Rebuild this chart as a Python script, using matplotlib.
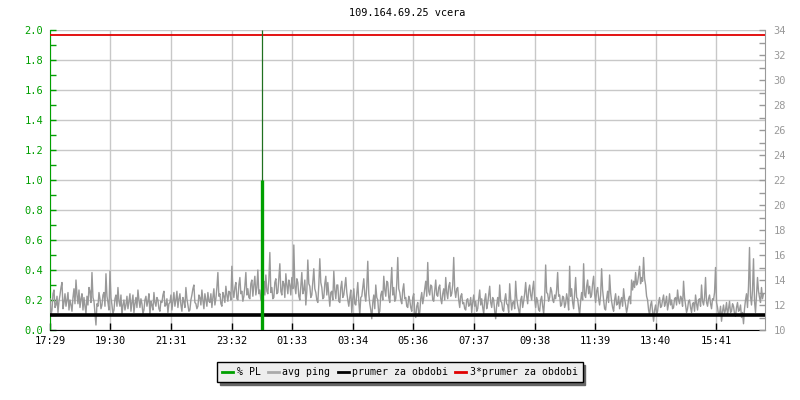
import matplotlib
matplotlib.use("Agg")
import matplotlib.pyplot as plt
from matplotlib.lines import Line2D
import numpy as np

# ---------------- data ----------------
title = "109.164.69.25 vcera"

# avg ping [ms], one sample every 2 minutes starting 17:29
ping_step_min = 2
avg_ping = [
    12.5, 11.2, 11.6, 12.9, 13.2, 11.8, 12.0, 12.7, 11.4, 12.3, 12.8, 13.4, 13.8, 11.7, 12.2, 12.9, 11.9, 12.4, 13.0, 11.6, 12.4, 12.0, 11.5, 12.6, 13.3, 12.1, 14.0, 12.8, 12.1, 13.2,
    11.8, 12.5, 12.9, 11.6, 12.6, 11.9, 11.3, 12.7, 12.0, 13.4, 13.1, 12.2, 14.6, 12.6, 12.3, 11.4, 10.4, 12.1, 11.9, 13.0, 12.5, 11.7, 12.0, 12.8, 13.0, 11.9, 14.5, 12.7, 12.2, 11.6,
    14.7, 12.6, 12.0, 11.3, 11.6, 12.5, 12.8, 11.9, 13.4, 12.3, 11.9, 12.8, 11.2, 12.0, 12.4, 11.6, 12.0, 12.7, 11.7, 12.3, 12.9, 11.5, 12.2, 12.8, 11.4, 12.1, 12.6, 11.8, 13.2, 12.4,
    11.8, 12.5, 12.1, 11.3, 11.6, 12.4, 12.7, 11.9, 12.3, 12.9, 11.2, 12.3, 12.0, 11.6, 13.0, 12.2, 11.9, 12.6, 12.4, 11.7, 11.5, 12.3, 12.2, 12.8, 13.1, 11.9, 12.0, 12.5, 11.4, 12.1,
    12.2, 12.8, 11.6, 12.3, 13.0, 11.9, 12.4, 13.1, 11.8, 12.5, 12.9, 12.0, 11.5, 12.6, 12.3, 11.8, 13.4, 12.5, 12.0, 11.5, 11.6, 12.4, 12.8, 13.3, 13.6, 12.2, 12.1, 11.7, 11.9, 12.8,
    12.6, 12.0, 13.2, 12.4, 11.7, 12.9, 12.4, 11.9, 13.0, 12.3, 12.2, 12.9, 11.8, 12.6, 13.3, 12.0, 12.5, 13.4, 14.6, 12.7, 12.9, 12.1, 11.9, 13.0, 12.7, 12.2, 13.5, 12.8, 12.3, 13.1,
    13.0, 12.4, 15.1, 13.2, 12.6, 13.4, 13.8, 12.5, 12.4, 13.6, 14.2, 12.9, 13.1, 12.3, 12.7, 13.5, 14.6, 12.8, 13.3, 12.6, 12.5, 13.7, 14.0, 12.7, 13.6, 14.3, 12.8, 13.4, 14.8, 12.9,
    13.2, 12.4, 12.3, 13.5, 13.9, 12.8, 14.4, 13.1, 12.9, 14.0, 16.2, 13.0, 13.4, 12.5, 12.6, 13.8, 14.1, 12.9, 13.0, 14.2, 15.3, 13.1, 12.8, 13.9, 13.7, 12.6, 14.5, 13.6, 12.9, 14.0,
    13.6, 12.8, 14.2, 13.3, 16.8, 13.5, 12.9, 14.1, 13.8, 12.7, 12.4, 13.5, 14.6, 12.9, 13.2, 14.0, 12.0, 13.1, 15.6, 13.7, 13.5, 12.6, 12.8, 13.9, 14.9, 13.3, 13.0, 12.4, 12.2, 13.6,
    15.7, 13.8, 13.4, 12.5, 12.6, 13.7, 14.3, 12.8, 13.8, 12.9, 11.9, 13.0, 13.1, 12.4, 14.7, 13.2, 12.5, 13.6, 13.6, 12.3, 12.2, 13.4, 13.9, 12.6, 12.8, 13.5, 14.2, 13.0, 12.4, 11.9,
    12.6, 13.2, 11.4, 12.5, 13.3, 12.1, 12.0, 12.9, 13.8, 12.3, 11.2, 12.6, 12.7, 13.4, 14.1, 12.8, 12.3, 13.5, 15.5, 12.9, 12.1, 11.6, 10.9, 12.2, 12.8, 11.7, 13.6, 12.6, 12.4, 11.3,
    11.5, 12.8, 13.1, 12.4, 14.3, 13.2, 12.7, 13.9, 13.8, 12.6, 12.2, 13.6, 15.0, 12.8, 13.4, 12.3, 12.5, 13.7, 15.8, 13.3, 13.0, 12.4, 12.1, 13.2, 13.7, 12.5, 12.6, 11.9, 11.8, 12.7,
    12.4, 11.8, 11.5, 12.6, 12.9, 11.4, 11.0, 11.9, 12.2, 11.3, 11.4, 12.5, 13.0, 12.1, 12.6, 13.3, 13.9, 12.7, 15.4, 13.1, 12.8, 13.6, 13.5, 12.4, 12.3, 13.2, 14.0, 12.8, 12.7, 13.4,
    13.6, 12.5, 12.1, 12.9, 13.3, 12.4, 14.2, 13.0, 12.5, 13.5, 13.8, 12.7, 12.9, 13.6, 15.8, 13.2, 12.6, 13.3, 13.4, 12.4, 11.8, 12.7, 12.9, 12.1, 12.2, 11.7, 11.6, 12.4, 12.5, 11.9,
    12.0, 12.6, 11.4, 12.2, 12.8, 11.9, 12.3, 11.5, 11.7, 12.5, 13.2, 12.0, 12.5, 11.8, 11.3, 12.4, 12.9, 11.7, 12.1, 12.8, 13.5, 12.2, 11.8, 12.6, 12.4, 11.5, 10.9, 12.0, 12.6, 11.9,
    13.6, 12.3, 12.2, 11.6, 11.5, 12.4, 12.9, 12.1, 12.0, 11.4, 13.7, 12.5, 11.6, 12.2, 12.3, 11.7, 13.9, 12.6, 12.0, 11.6, 11.2, 12.4, 12.7, 11.8, 12.3, 12.9, 13.8, 12.7, 12.1, 13.2,
    13.6, 12.8, 12.4, 13.3, 13.9, 12.5, 11.8, 12.6, 12.3, 11.6, 11.5, 12.4, 12.7, 11.9, 11.3, 12.5, 15.2, 13.0, 12.9, 12.3, 12.6, 13.4, 13.1, 12.4, 12.2, 12.8, 12.5, 13.2, 14.6, 12.7,
    12.8, 11.9, 12.0, 12.7, 12.6, 11.8, 12.1, 12.9, 12.4, 11.6, 15.1, 12.7, 13.3, 12.2, 11.7, 12.9, 14.2, 12.6, 12.5, 11.8, 11.2, 12.3, 13.0, 12.4, 15.3, 12.8, 12.6, 13.5, 14.0, 12.9,
    13.5, 12.6, 12.8, 13.7, 14.3, 12.9, 12.2, 13.1, 13.4, 12.5, 12.0, 12.8, 14.9, 13.2, 12.4, 11.7, 11.6, 12.5, 13.1, 12.2, 14.4, 13.0, 12.3, 11.8, 11.5, 12.4, 12.9, 12.0, 12.1, 12.7,
    11.7, 12.3, 12.6, 11.9, 13.3, 12.5, 12.0, 11.4, 11.8, 12.5, 12.7, 12.1, 14.0, 13.2, 13.9, 13.4, 14.6, 13.6, 13.8, 14.4, 15.1, 13.7, 14.2, 13.9, 15.8, 14.1, 13.6, 12.7, 12.4, 11.6,
    11.2, 12.0, 12.3, 11.5, 10.7, 11.6, 12.0, 11.3, 11.5, 12.2, 12.6, 11.8, 11.9, 12.4, 12.8, 11.9, 12.2, 12.7, 11.6, 12.1, 12.9, 12.0, 12.4, 11.7, 11.8, 12.5, 12.6, 12.0, 13.2, 12.4,
    12.1, 12.7, 12.5, 11.9, 13.9, 12.6, 12.0, 11.4, 11.7, 12.3, 12.4, 11.8, 11.4, 12.1, 12.2, 11.5, 12.8, 12.1, 11.6, 12.4, 12.5, 11.9, 13.6, 12.3, 12.0, 12.6, 14.2, 12.2, 11.9, 12.5,
    12.8, 12.1, 11.7, 12.5, 12.4, 13.0, 15.0, 12.2, 11.8, 11.2, 11.3, 11.9, 10.7, 11.5, 12.0, 11.3, 11.6, 12.2, 11.2, 11.7, 12.3, 11.4, 11.5, 12.1, 11.9, 11.3, 11.1, 11.8, 12.2, 11.5,
    11.6, 12.0, 11.0, 11.4, 10.5, 11.7, 12.4, 12.9, 11.8, 13.5, 16.6, 12.7, 12.0, 13.2, 15.7, 12.3, 11.4, 12.8, 14.2, 13.1, 12.6, 12.2, 13.4, 12.5, 12.9,
]

# packet loss [%]
pl_time_min = 425
pl_value = 1.0
pl_offscale = 2.0  # thin line reaching the top of the chart

mean_ping = 11.2             # prumer za obdobi [ms]
triple_mean = 3 * mean_ping  # 3*prumer za obdobi

x_span_min = 1431
tick_minutes = [0, 121, 242, 364, 485, 606, 727, 848, 970, 1091, 1212, 1333]
tick_labels = ["17:29", "19:30", "21:31", "23:32", "01:33", "03:34",
               "05:36", "07:37", "09:38", "11:39", "13:40", "15:41"]

legend_labels = ["% PL", "avg ping", "prumer za obdobi", "3*prumer za obdobi"]

# ---------------- style ----------------
GREEN = "#00a000"
GRAY = "#999999"
GRID = "#c8c8c8"
FONT = "DejaVu Sans Mono"
FS = 7.5

fig = plt.figure(figsize=(8, 4), dpi=100)
L, R, B, T = 50 / 800, 765 / 800, 70 / 400, 370 / 400
ax = fig.add_axes([L, B, R - L, T - B])      # PL axis (left) + grid
axp = ax.twinx()                              # ping axis (right)
ax3 = ax.twinx()                              # PL overlay on top

# ping
t = np.arange(len(avg_ping)) * ping_step_min
axp.plot(t, avg_ping, color=GRAY, lw=1.0, zorder=2)
axp.axhline(mean_ping, color="black", lw=2.6, zorder=3)
axp.axhline(triple_mean, color="#e00000", lw=1.3, zorder=3)
axp.set_ylim(10, 34)

# PL
ax3.set_ylim(0, 2)
ax3.vlines([pl_time_min], 0, pl_offscale, color="#207020", lw=0.9)
ax3.vlines([pl_time_min], 0, pl_value, color=GREEN, lw=2.4)

for a in (ax, axp, ax3):
    a.set_xlim(0, x_span_min)
    a.patch.set_visible(False)
ax.patch.set_visible(True)
ax.patch.set_facecolor("white")

# left axis
ax.set_ylim(0, 2)
ax.set_yticks(np.arange(0, 2.01, 0.2))
ax.set_yticks(np.arange(0, 2.01, 0.1), minor=True)
ax.set_yticklabels([f"{v:.1f}" for v in np.arange(0, 2.01, 0.2)])
ax.tick_params(axis="y", which="both", direction="in", length=4, color=GREEN,
               labelcolor=GREEN, labelsize=FS, pad=5, width=1)
for lbl in ax.get_yticklabels():
    lbl.set_fontfamily(FONT)
ax.grid(axis="y", which="major", color=GRID, lw=1)
ax.grid(axis="x", which="major", color=GRID, lw=1)
ax.set_axisbelow(True)

# x axis
ax.set_xticks(tick_minutes)
ax.set_xticklabels(tick_labels, fontfamily=FONT, fontsize=FS)
ax.tick_params(axis="x", direction="in", length=5, color="black", pad=4, width=1)

# right axis
axp.set_yticks(np.arange(10, 35, 2))
axp.set_yticks(np.arange(10, 35, 1), minor=True)
axp.tick_params(axis="y", which="both", direction="in", length=4, color=GRAY,
                labelcolor=GRAY, labelsize=FS, pad=6, width=1)
for lbl in axp.get_yticklabels():
    lbl.set_fontfamily(FONT)

ax3.set_yticks([])
ax3.tick_params(axis="both", length=0)

# spines
for s in ax.spines.values():
    s.set_visible(False)
ax.spines["left"].set_visible(True)
ax.spines["left"].set_color(GREEN)
ax.spines["bottom"].set_visible(True)
ax.spines["bottom"].set_color("black")
for s in axp.spines.values():
    s.set_visible(False)
axp.spines["right"].set_visible(True)
axp.spines["right"].set_color(GRAY)
for s in ax3.spines.values():
    s.set_visible(False)

# title
fig.text((L + R) / 2, 1 - 13 / 400, title, ha="center", va="center",
         fontfamily=FONT, fontsize=7.4)

# legend
handles = [Line2D([], [], color=GREEN, lw=2),
           Line2D([], [], color="#aaaaaa", lw=2),
           Line2D([], [], color="black", lw=2),
           Line2D([], [], color="#e00000", lw=2)]
leg = fig.legend(handles, legend_labels, loc="center",
                 bbox_to_anchor=(0.5, 1 - 372 / 400), ncol=4, frameon=True,
                 fancybox=False, shadow={"color": "#666666", "alpha": 1},
                 edgecolor="black", facecolor="#eeeeee", framealpha=1,
                 handlelength=1.1, handletextpad=0.35, columnspacing=0.75,
                 borderpad=0.5, prop={"family": FONT, "size": 7.1})
leg.get_frame().set_linewidth(1)

fig.savefig("out.png", dpi=100)
